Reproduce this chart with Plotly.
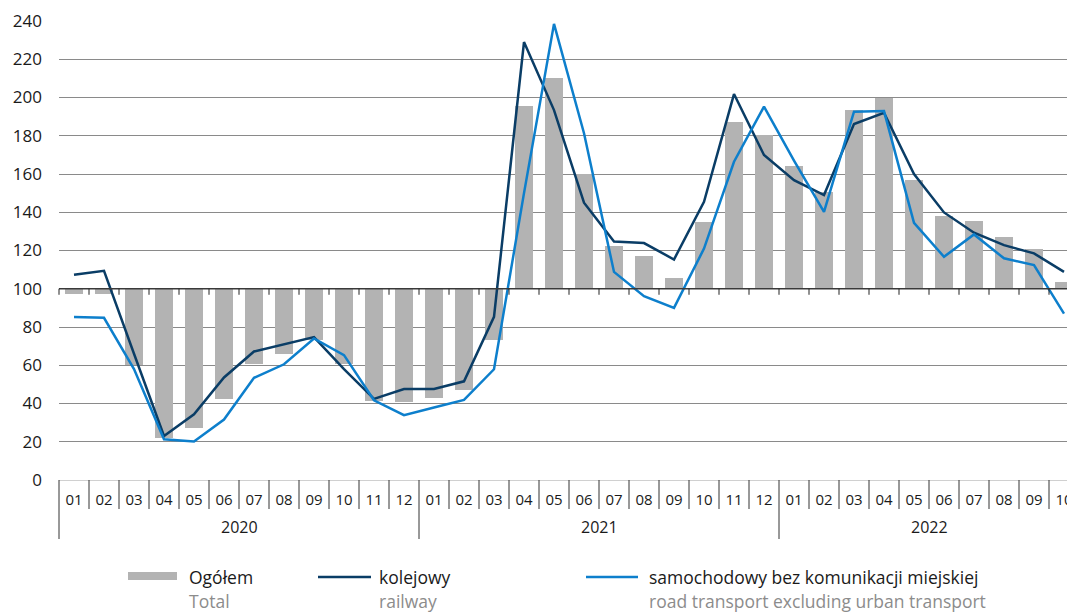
import plotly.graph_objects as go

months = ["01","02","03","04","05","06","07","08","09","10","11","12",
          "01","02","03","04","05","06","07","08","09","10","11","12",
          "01","02","03","04","05","06","07","08","09","10"]
years = ["2020", "2021", "2022"]
year_counts = [12, 12, 10]

ogolem = [97, 97, 60, 22, 27, 42.5, 60.5, 66, 73, 60.5, 41.3, 40.7,
          43, 47, 73, 195.5, 210, 160, 122.5, 117, 105.5, 135, 187, 180.5,
          164, 150.5, 193.5, 200, 157, 138, 135.5, 127, 121, 103.5]
kolejowy = [107.3, 109.4, 66, 23, 34.4, 53.6, 67.2, 71, 74.7, 58, 42.4, 47.6,
            47.6, 51.6, 85.3, 229, 193.4, 145, 124.7, 123.9, 115.3, 145.5, 201.8, 169.9,
            156.8, 149, 186.1, 192, 160, 139.9, 129.3, 122.8, 118.5, 108.8]
samochodowy = [85.2, 84.8, 58, 21.3, 20.1, 31.6, 53.4, 60.5, 74, 65.3, 41.7, 33.9,
               37.9, 41.9, 57.9, 150, 238.5, 181.3, 108.8, 96.1, 90, 121, 166.4, 195.2,
               167, 140.2, 192.6, 192.9, 134.5, 116.7, 128.4, 115.9, 112.4, 87]
BASE = 100

W, H = 1067, 613
L, R, T, B = 59, 0, 21, 133
PW, PH = W - L - R, H - T - B
CAT = 30.0
XMIN = -0.5
XMAX = XMIN + PW / CAT

BAR_C = "#b3b3b3"
RAIL_C = "#0a3d66"
ROAD_C = "#0d7fcc"
FONT = "Open Sans, Noto Sans, sans-serif"

x = list(range(len(months)))

fig = go.Figure()
fig.add_trace(go.Bar(x=x, y=[v - BASE for v in ogolem], base=BASE, width=0.61,
                     marker=dict(color=BAR_C, line=dict(width=0)), name="Ogółem",
                     showlegend=False, hoverinfo="skip"))
fig.add_trace(go.Scatter(x=x, y=kolejowy, mode="lines", line=dict(color=RAIL_C, width=2.5),
                         name="kolejowy", showlegend=False))
fig.add_trace(go.Scatter(x=x, y=samochodowy, mode="lines", line=dict(color=ROAD_C, width=2.5),
                         name="samochodowy", showlegend=False))

def px2paper_x(p):
    return (p - L) / PW

def px2paper_y(p):
    return (T + PH - p) / PH

def xb(k):
    return (k - 0.5 - XMIN) / (XMAX - XMIN)

shapes = []
shapes.append(dict(type="line", xref="paper", yref="y", x0=0, x1=1, y0=BASE, y1=BASE,
                   line=dict(color="#3a3a3a", width=1.3), layer="above"))
year_bounds = [0]
for c in year_counts:
    year_bounds.append(year_bounds[-1] + c)
for k in range(len(months) + 1):
    xp = xb(k)
    if xp > 1.001:
        continue
    shapes.append(dict(type="line", xref="paper", yref="y", ysizemode="pixel", yanchor=BASE,
                       x0=xp, x1=xp, y0=0, y1=-6, line=dict(color="#222", width=1), layer="above"))
    depth = -59 if k in year_bounds else -29
    shapes.append(dict(type="line", xref="paper", yref="paper", ysizemode="pixel", yanchor=0,
                       x0=xp, x1=xp, y0=0, y1=depth, line=dict(color="#333", width=1)))

annotations = []
start = 0
for yr, c in zip(years, year_counts):
    annotations.append(dict(x=start + c / 2 - 0.5, y=px2paper_y(527), xref="x", yref="paper",
                            text=yr, showarrow=False, font=dict(family=FONT, size=16, color="#1a1a1a"),
                            xanchor="center", yanchor="middle"))
    start += c

leg = [
    ("rect", 128, 177, "Ogółem", "Total", 187),
    ("line", 318, 371, "kolejowy", "railway", 377),
    ("line", 586, 638, "samochodowy bez komunikacji miejskiej", "road transport excluding urban transport", 647),
]
for kind, x0, x1, t1, t2, tx in leg:
    if kind == "rect":
        shapes.append(dict(type="rect", xref="paper", yref="paper",
                           x0=px2paper_x(x0), x1=px2paper_x(x1), y0=px2paper_y(572), y1=px2paper_y(580),
                           fillcolor=BAR_C, line=dict(width=0)))
    else:
        col = RAIL_C if t1 == "kolejowy" else ROAD_C
        shapes.append(dict(type="line", xref="paper", yref="paper",
                           x0=px2paper_x(x0), x1=px2paper_x(x1), y0=px2paper_y(577), y1=px2paper_y(577),
                           line=dict(color=col, width=2.5)))
    annotations.append(dict(x=px2paper_x(tx), y=px2paper_y(577), xref="paper", yref="paper", text=t1,
                            showarrow=False, xanchor="left", yanchor="middle",
                            font=dict(family=FONT, size=17.5, color="#1a1a1a")))
    annotations.append(dict(x=px2paper_x(tx), y=px2paper_y(601), xref="paper", yref="paper", text=t2,
                            showarrow=False, xanchor="left", yanchor="middle",
                            font=dict(family=FONT, size=17.5, color="#8c8c8c")))

fig.update_layout(
    width=W, height=H,
    margin=dict(l=L, r=R, t=T, b=B, pad=0, autoexpand=False),
    paper_bgcolor="white", plot_bgcolor="white",
    bargap=0,
    shapes=shapes, annotations=annotations,
    showlegend=False,
    font=dict(family=FONT, color="#1a1a1a"),
)
fig.update_xaxes(range=[XMIN, XMAX], tickmode="array", tickvals=x, ticktext=months,
                 showgrid=False, zeroline=False, showline=True, linecolor="#d0d0d0", linewidth=1,
                 ticks="", tickfont=dict(family=FONT, size=15, color="#1a1a1a"),
                 ticklabelstandoff=6, ticklabeloverflow="allow", automargin=False)
fig.update_yaxes(range=[0, 240], dtick=20, tick0=0, showgrid=True, gridcolor="#8a8a8a", gridwidth=1,
                 zeroline=False, showline=False, ticks="", automargin=False,
                 tickfont=dict(family=FONT, size=17, color="#1a1a1a"), ticklabelstandoff=16)

fig.write_html("out.html", config={"displayModeBar": False},
               post_script="document.body.style.margin='0';document.body.style.overflow='hidden';")
